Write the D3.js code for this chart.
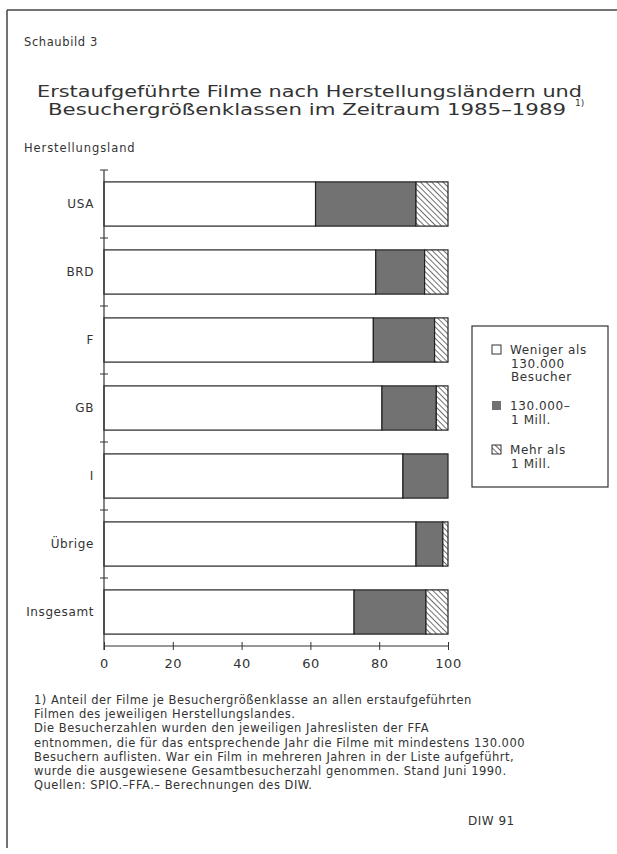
<!DOCTYPE html>
<html>
<head>
<meta charset="utf-8">
<script src="https://cdn.jsdelivr.net/npm/d3@7"></script>
<style>
  body { margin: 0; background: #fff; }
  text { font-family: "DejaVu Sans", sans-serif; fill: #333; }
</style>
</head>
<body>
<div id="chart"></div>
<script>
// data (shares in %)
var countries = ["USA", "BRD", "F", "GB", "I", "Übrige", "Insgesamt"];
var under130k = [61.5, 79.0, 78.3, 80.8, 86.9, 90.7, 72.7];
var mid130kTo1m = [29.2, 14.2, 17.8, 15.8, 13.1, 7.8, 20.9];
var over1m = [9.3, 6.8, 3.9, 3.4, 0, 1.5, 6.4];
var xTicks = [0, 20, 40, 60, 80, 100];
var seriesKeys = ["under", "mid", "over"];
var legendLabels = [["Weniger als", "130.000", "Besucher"], ["130.000–", "1 Mill."], ["Mehr als", "1 Mill."]];
var footnote = [
  "1) Anteil der Filme je Besuchergrößenklasse an allen erstaufgeführten",
  "Filmen des jeweiligen Herstellungslandes.",
  "Die Besucherzahlen wurden den jeweiligen Jahreslisten der FFA",
  "entnommen, die für das entsprechende Jahr die Filme mit mindestens 130.000",
  "Besuchern auflisten. War ein Film in mehreren Jahren in der Liste aufgeführt,",
  "wurde die ausgewiesene Gesamtbesucherzahl genommen. Stand Juni 1990.",
  "Quellen: SPIO.–FFA.– Berechnungen des DIW."
];

var W = 617, H = 854;
var svg = d3.select("#chart").append("svg")
  .attr("width", W).attr("height", H);

// hatch pattern for the "Mehr als 1 Mill." class
var pat = svg.append("defs").append("pattern")
  .attr("id", "hatch")
  .attr("patternUnits", "userSpaceOnUse")
  .attr("width", 4).attr("height", 4)
  .attr("patternTransform", "rotate(-45)");
pat.append("rect").attr("width", 4).attr("height", 4).attr("fill", "#fff");
pat.append("line").attr("x1", 0).attr("y1", 0).attr("x2", 0).attr("y2", 4)
  .attr("stroke", "#222").attr("stroke-width", 1.3);

var fills = { under: "#fff", mid: "#727272", over: "url(#hatch)" };

// page frame (top and left edge of the scan)
svg.append("line").attr("x1", 7).attr("x2", W).attr("y1", 10).attr("y2", 10)
  .attr("stroke", "#444").attr("stroke-width", 1.5);
svg.append("line").attr("x1", 7).attr("x2", 7).attr("y1", 10).attr("y2", 848)
  .attr("stroke", "#444").attr("stroke-width", 1.5);

svg.append("text").attr("x", 24).attr("y", 46)
  .style("font-size", "11.5px").style("letter-spacing", "0.6px").text("Schaubild 3");

// title, stretched to the width of the original lettering
svg.append("text").attr("x", 37).attr("y", 97)
  .style("font-size", "16px")
  .attr("textLength", 545).attr("lengthAdjust", "spacingAndGlyphs")
  .text("Erstaufgeführte Filme nach Herstellungsländern und");
svg.append("text").attr("x", 48).attr("y", 115)
  .style("font-size", "16px")
  .attr("textLength", 518).attr("lengthAdjust", "spacingAndGlyphs")
  .text("Besuchergrößenklassen im Zeitraum 1985–1989");
svg.append("text").attr("x", 575).attr("y", 106)
  .style("font-size", "9px").text("1)");

svg.append("text").attr("x", 24).attr("y", 152)
  .style("font-size", "11.5px").style("letter-spacing", "0.9px").text("Herstellungsland");

// scales
var x = d3.scaleLinear().domain([0, 100]).range([104, 448]);
var y = d3.scaleBand().domain(countries).range([170, 646])
  .paddingInner(0.35).paddingOuter(0.175);

var rows = countries.map(function (c, i) {
  return { country: c, under: under130k[i], mid: mid130kTo1m[i], over: over1m[i] };
});
var stacked = d3.stack().keys(seriesKeys)(rows);

var g = svg.append("g");
g.selectAll("g.series")
  .data(stacked)
  .enter().append("g")
    .attr("class", "series")
    .attr("fill", function (d) { return fills[d.key]; })
  .selectAll("rect")
  .data(function (d) { return d.filter(function (s) { return s[1] - s[0] > 0; }); })
  .enter().append("rect")
    .attr("x", function (d) { return x(d[0]); })
    .attr("width", function (d) { return x(d[1]) - x(d[0]); })
    .attr("y", function (d) { return y(d.data.country); })
    .attr("height", y.bandwidth())
    .attr("stroke", "#222")
    .attr("stroke-width", 1.2);

// y axis: category labels
var yAxis = svg.append("g")
  .attr("transform", "translate(" + x(0) + ",0)")
  .call(d3.axisLeft(y).tickSize(0).tickPadding(10));
yAxis.select(".domain").remove();
yAxis.selectAll("text").style("font-size", "12px").style("letter-spacing", "0.6px").style("fill", "#333");

// axis line and "+" marks between the categories
svg.append("line")
  .attr("x1", x(0)).attr("x2", x(0)).attr("y1", y.range()[0]).attr("y2", y.range()[1] + 4)
  .attr("stroke", "#333").attr("stroke-width", 1.2);
var step = y.step();
var bounds = countries.map(function (c) { return y(c) - step * y.paddingOuter(); });
svg.selectAll("line.ysep")
  .data(bounds)
  .enter().append("line")
    .attr("class", "ysep")
    .attr("x1", x(0) - 4).attr("x2", x(0) + 4)
    .attr("y1", function (d) { return d; }).attr("y2", function (d) { return d; })
    .attr("stroke", "#333").attr("stroke-width", 1);

// x axis
var xAxis = svg.append("g")
  .attr("transform", "translate(0," + y.range()[1] + ")")
  .call(d3.axisBottom(x).tickValues(xTicks).tickSize(4).tickPadding(9));
xAxis.select(".domain").attr("d", "M" + x(0) + ",0H" + x(100)).attr("stroke", "#333").attr("stroke-width", 1.2);
xAxis.selectAll(".tick line").attr("y1", -4).attr("y2", 4).attr("stroke", "#333");
xAxis.selectAll("text").style("font-size", "13px").style("letter-spacing", "0.5px").style("fill", "#333");

// legend
svg.append("rect").attr("x", 472).attr("y", 326).attr("width", 136).attr("height", 161)
  .attr("fill", "#fff").attr("stroke", "#333").attr("stroke-width", 1.2);
var legendTop = [354, 410, 454];
var leg = svg.selectAll("g.leg")
  .data(seriesKeys)
  .enter().append("g")
    .attr("class", "leg")
    .attr("transform", function (d, i) { return "translate(492," + legendTop[i] + ")"; });
leg.append("rect")
  .attr("x", 0).attr("y", -9).attr("width", 9).attr("height", 9)
  .attr("fill", function (d) { return fills[d]; })
  .attr("stroke", function (d) { return d === "mid" ? "none" : "#333"; });
leg.append("text")
  .style("font-size", "12px")
  .style("letter-spacing", "0.6px")
  .each(function (d, i) {
    var t = d3.select(this);
    legendLabels[i].forEach(function (line, j) {
      t.append("tspan").attr("x", j === 0 ? 18 : 19).attr("y", j * 13.5).text(line);
    });
  });

// footnote
var fn = svg.append("text").style("font-size", "11.5px").style("letter-spacing", "0.5px");
footnote.forEach(function (line, i) {
  fn.append("tspan").attr("x", 34).attr("y", 704 + i * 14.2).text(line);
});

svg.append("text").attr("x", 468).attr("y", 825)
  .style("font-size", "12px").style("letter-spacing", "0.5px").text("DIW 91");
</script>
</body>
</html>
